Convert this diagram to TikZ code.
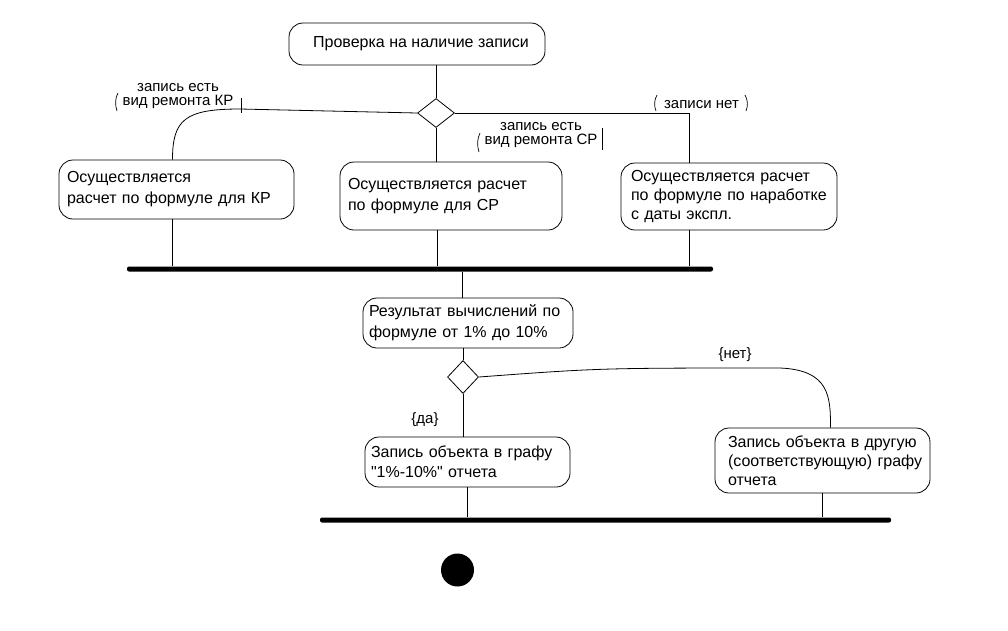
\documentclass[tikz,border=0pt]{standalone}
\usepackage{fontspec}
\setmainfont{Liberation Sans}
\usetikzlibrary{shapes.geometric}
\newcommand{\dq}{\XeTeXglyph\XeTeXcharglyph"22\relax}
\tikzset{
  act/.style={draw, line width=0.8pt, rounded corners=14pt, inner xsep=9pt, inner ysep=0pt, align=left, font=\fontsize{16}{21}\selectfont},
  lbl/.style={inner sep=0pt, font=\fontsize{15}{14.5}\selectfont, align=center},
  dec/.style={draw, line width=0.8pt, diamond, inner sep=0pt, minimum width=37pt, minimum height=29pt},
  bar/.style={fill=black, rounded corners=2pt, inner sep=0pt, minimum height=5pt},
  con/.style={line width=0.8pt},
  brk/.style={line width=0.7pt}
}
\begin{document}
\begin{tikzpicture}[x=1pt,y=-1pt]
\useasboundingbox[fill=white] (0,0) rectangle (1008,630);

% nodes
\node[act, align=center, minimum width=256pt, minimum height=42pt] (top) at (417,44) {\hspace*{8pt}Проверка на наличие записи};
\node[dec] (d1) at (436,113) {};
\node[act, minimum width=235pt, minimum height=59pt, text width=219pt, inner xsep=8pt] (b1) at (176.5,189.5) {Осуществляется\\расчет по формуле для КР};
\node[act, minimum width=222pt, minimum height=68pt, text width=206pt, inner xsep=8pt] (b2) at (451,196) {Осуществляется расчет\\по формуле для СР};
\node[act, minimum width=216pt, minimum height=67pt, text width=204pt, inner xsep=6pt, font=\fontsize{16}{18.5}\selectfont] (b3) at (729,196.5) {\hspace*{4pt}Осуществляется расчет\\\hspace*{4pt}по формуле по наработке\\\hspace*{4pt}с даты экспл.};
\node[bar, minimum width=586pt] (bar1) at (420,269) {};
\node[act, minimum width=210pt, minimum height=50pt, text width=198pt, inner xsep=6pt] (b4) at (468,323) {Результат вычислений по\\формуле от 1\% до 10\%};
\node[dec, minimum width=31pt, minimum height=33pt] (d2) at (463,377) {};
\node[act, minimum width=205pt, minimum height=50pt, text width=193pt, inner xsep=6pt, font=\fontsize{16}{20}\selectfont] (b5) at (467.5,462) {Запись объекта в графу\\\dq 1\%-10\%\dq{} отчета};
\node[act, minimum width=215pt, minimum height=65pt, text width=205pt, inner xsep=5pt, font=\fontsize{16}{19}\selectfont] (b6) at (822.5,460.5) {\hspace*{8pt}Запись объекта в другую\\\hspace*{8pt}(соответствующую) графу\\\hspace*{8pt}отчета};
\node[bar, minimum width=571pt] (bar2) at (605.5,520) {};
\node[circle, fill=black, inner sep=0pt, minimum size=33pt] (fin) at (457.5,570) {};

% labels
\node[lbl] (l1) at (178,96) {запись есть\\вид ремонта КР};
\node[lbl] (l2) at (541,135) {запись есть\\вид ремонта СР};
\node[lbl] (l3) at (701.5,105) {записи нет};
\node[lbl] (l4) at (735,355) {\{нет\}};
\node[lbl] (l5) at (425,420) {\{да\}};

% bracket marks
\draw[brk] (118,93) .. controls (115,98) and (115,105) .. (117,111);
\draw[brk] (241,98) -- (241,113);
\draw[brk] (480,133) .. controls (477,139) and (477,146) .. (479,152);
\draw[brk] (602,128) -- (602,150);
\draw[brk] (657,95) .. controls (654,100) and (654,106) .. (656,111);
\draw[brk] (745,95) .. controls (748,100) and (748,106) .. (746,111);

% connectors
\coordinate (kL) at (240,109);
\coordinate (kR) at (689,113);
\coordinate (kN) at (780,368);
\draw[con] (d1.north) -- (d1.north |- top.south);
\draw[con] (d1.west) -- (kL) .. controls +(-55,0) and +(0,-40) .. ([xshift=-4pt]b1.north);
\draw[con] (d1.south) -- (d1.south |- b2.north);
\draw[con] (d1.east) -- (kR) -- (kR |- b3.north);
\draw[con] ([xshift=-4pt]b1.south) -- ([xshift=-4pt]b1.south |- bar1.north);
\draw[con] ([xshift=-14pt]b2.south) -- ([xshift=-14pt]b2.south |- bar1.north);
\draw[con] (kR |- b3.south) -- (kR |- bar1.north);
\draw[con] ([xshift=-6pt]b4.north) -- ([xshift=-6pt]b4.north |- bar1.south);
\draw[con] (d2.north) -- (d2.north |- b4.south);
\draw[con] (d2.south) -- (d2.south |- b5.north);
\draw[con] (d2.east) .. controls (600,368) .. (kN) .. controls +(50,2) and +(0,-30) .. ([xshift=8pt]b6.north);
\draw[con] (b5.south) -- (b5.south |- bar2.north);
\draw[con] (b6.south) -- (b6.south |- bar2.north);
\end{tikzpicture}
\end{document}
